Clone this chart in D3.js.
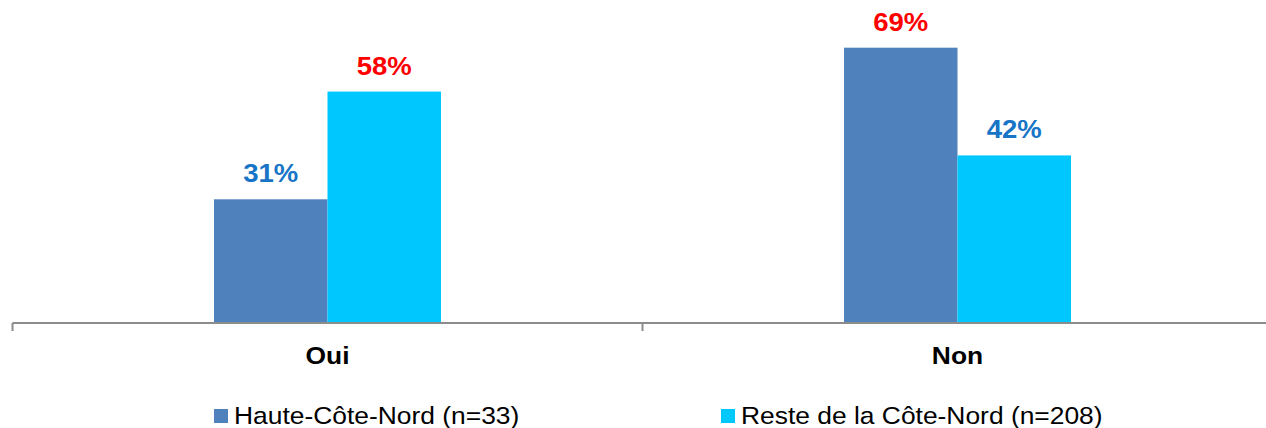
<!DOCTYPE html>
<html>
<head>
<meta charset="utf-8">
<script src="https://cdn.jsdelivr.net/npm/d3@7"></script>
<style>
  html, body { margin: 0; padding: 0; background: #fff; }
  svg { display: block; font-family: "Liberation Sans", Arial, sans-serif; }
</style>
</head>
<body>
<svg id="chart" width="1266" height="428"></svg>
<script>
// Answer categories along the x axis
const categories = ["Oui", "Non"];
// Series (legend order)
const seriesNames = ["Haute-Côte-Nord (n=33)", "Reste de la Côte-Nord (n=208)"];
// Percentages per category for each series
const hauteCoteNord = [31, 69];
const resteCoteNord = [58, 42];
const seriesColors = ["#4F81BD", "#00C8FF"];

// Text is drawn slightly widened
const textStretch = 1.1;
const placeText = (x, yy) => `translate(${x},${yy}) scale(${textStretch},1)`;

const svg = d3.select("#chart");

const x0 = d3.scaleBand().domain(categories).range([12.5, 1272.5]);
const groupWidth = 227;
const x1 = d3.scaleBand().domain(seriesNames).range([0, groupWidth]);
const groupOffset = (x0.bandwidth() - groupWidth) / 2;
const y = d3.scaleLinear().domain([0, 80]).range([323, 3.8]);

const rows = categories.map((c, i) => ({
  cat: c,
  vals: [hauteCoteNord[i], resteCoteNord[i]]
}));

const g = svg.append("g");

rows.forEach(r => {
  const maxV = d3.max(r.vals);
  r.vals.forEach((v, j) => {
    const bx = x0(r.cat) + groupOffset + x1(seriesNames[j]);
    g.append("rect")
      .attr("x", bx)
      .attr("y", y(v))
      .attr("width", x1.bandwidth())
      .attr("height", y(0) - y(v))
      .attr("fill", seriesColors[j]);
    // Value label: the larger value of each pair is shown in red
    g.append("text")
      .attr("transform", placeText(bx + x1.bandwidth() / 2, y(v) - 17))
      .attr("text-anchor", "middle")
      .attr("font-size", 25)
      .attr("font-weight", "bold")
      .attr("fill", v === maxV ? "#FF0000" : "#1874C6")
      .text(v + "%");
  });
});

// Category axis
const axis = d3.axisBottom(x0).tickSize(0).tickFormat("");
const axisG = svg.append("g").attr("transform", "translate(0,323)").call(axis);
axisG.select(".domain").attr("stroke", "#8C8C8C").attr("stroke-width", 2)
  .attr("d", `M${x0.range()[0]},0H${x0.range()[1]}`);
// Boundary ticks between categories
const bounds = categories.map(c => x0(c)).concat([x0.range()[1]]);
axisG.selectAll(".bound").data(bounds).enter().append("line")
  .attr("x1", d => d).attr("x2", d => d)
  .attr("y1", 0).attr("y2", 8)
  .attr("stroke", "#8C8C8C").attr("stroke-width", 2);

svg.append("g").selectAll("text").data(categories).enter().append("text")
  .attr("transform", d => placeText(x0(d) + x0.bandwidth() / 2, 364))
  .attr("text-anchor", "middle")
  .attr("font-size", 24)
  .attr("font-weight", "bold")
  .attr("fill", "#000")
  .text(d => d);

// Legend
const legendX = [214, 721];
const legend = svg.append("g").selectAll("g").data(seriesNames).enter().append("g")
  .attr("transform", (d, i) => `translate(${legendX[i]},0)`);
legend.append("rect").attr("x", 0).attr("y", 409).attr("width", 14).attr("height", 14)
  .attr("fill", (d, i) => seriesColors[i]);
legend.append("text").attr("transform", placeText(20, 424))
  .attr("font-size", 24).attr("fill", "#000").text(d => d);
</script>
</body>
</html>
